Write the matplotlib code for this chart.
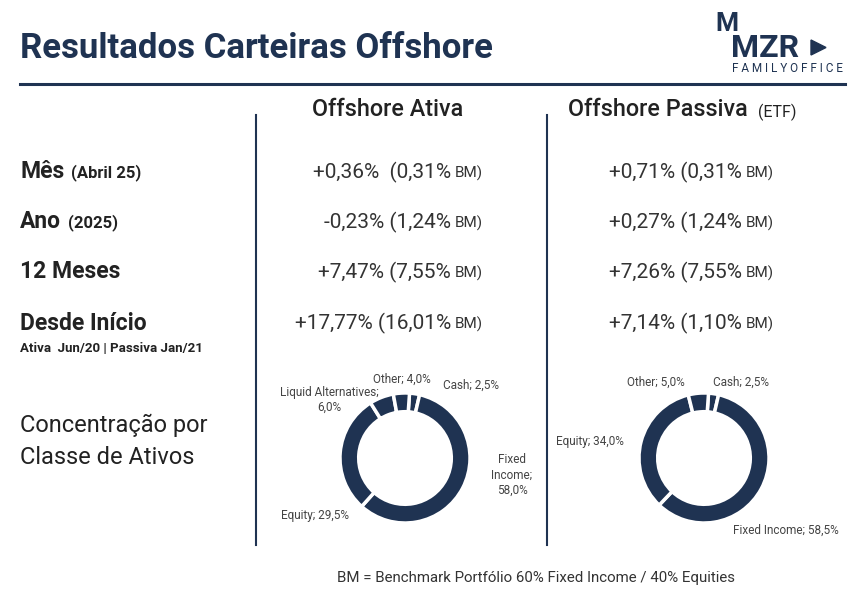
import matplotlib.pyplot as plt
from matplotlib.patches import Polygon

plt.rcParams['font.family'] = ['Roboto', 'DejaVu Sans']

NAVY = '#1f3352'
W, H = 863, 600

rows = ["Mês", "Ano", "12 Meses", "Desde Início"]
row_notes = ["(Abril 25)", "(2025)", "", ""]
ativa = ["+0,36%  (0,31%", "-0,23% (1,24%", "+7,47% (7,55%", "+17,77% (16,01%"]
passiva = ["+0,71% (0,31%", "+0,27% (1,24%", "+7,26% (7,55%", "+7,14% (1,10%"]
row_y = [172, 222, 272, 323]

ativa_labels = ["Cash; 2,5%", "Fixed\nIncome;\n58,0%", "Equity; 29,5%",
                "Liquid Alternatives;\n6,0%", "Other; 4,0%"]
ativa_vals = [2.5, 58.0, 29.5, 6.0, 4.0]
passiva_labels = ["Cash; 2,5%", "Fixed Income; 58,5%", "Equity; 34,0%", "Other; 5,0%"]
passiva_vals = [2.5, 58.5, 34.0, 5.0]

fig = plt.figure(figsize=(W / 100, H / 100), dpi=100)


def px(x, y):
    return x / W, 1 - y / H


def txt(x, y, s, **kw):
    return fig.text(*px(x, y), s, **kw)


txt(20, 48, "Resultados Carteiras Offshore", fontsize=25, fontweight='bold',
    color=NAVY, va='center')
fig.add_artist(plt.Line2D([20 / W, 845 / W], [1 - 84 / H] * 2, color=NAVY, lw=2.2))

# logo
txt(715, 24, "M", fontsize=19, fontweight='bold', color=NAVY, va='center')
txt(731, 48, "MZR", fontsize=23, fontweight='bold', color=NAVY, va='center')
fig.add_artist(Polygon([px(811, 40), px(811, 55), px(826, 47.5)], closed=True,
                       color=NAVY, transform=fig.transFigure))
txt(843, 68, "F A M I L Y O F F I C E", fontsize=8.5, color=NAVY, va='center', ha='right')

# column headers
txt(388, 110, "Offshore Ativa", fontsize=16.8, fontweight='medium', color='#222222',
    ha='center', va='center')
txt(568, 110, "Offshore Passiva", fontsize=16.8, fontweight='medium', color='#222222',
    va='center')
txt(758, 112, "(ETF)", fontsize=11.5, color='#222222', va='center')

for x in (256, 547):
    fig.add_artist(plt.Line2D([x / W] * 2, [1 - 115 / H, 1 - 545 / H], color=NAVY, lw=1.5))

fig.canvas.draw()
for name, note, a, p, y in zip(rows, row_notes, ativa, passiva, row_y):
    t = txt(20, y, name, fontsize=16.5, fontweight='bold', color='#222222', va='center')
    if note:
        bb = t.get_window_extent(renderer=fig.canvas.get_renderer())
        fig.text(bb.x1 / W + 7 / W, 1 - (y + 1) / H, note, fontsize=12, fontweight='bold',
                 color='#222222', va='center')
    txt(451, y, a, fontsize=15, color='#333333', va='center', ha='right')
    txt(455, y + 1, "BM)", fontsize=11, color='#333333', va='center')
    txt(742, y, p, fontsize=15, color='#333333', va='center', ha='right')
    txt(746, y + 1, "BM)", fontsize=11, color='#333333', va='center')

txt(20, 349, "Ativa  Jun/20 | Passiva Jan/21", fontsize=9.5, fontweight='bold',
    color='#222222', va='center')
txt(20, 425, "Concentração por", fontsize=17, color='#222222', va='center')
txt(20, 458, "Classe de Ativos", fontsize=17, color='#222222', va='center')


def donut(cx, vals, labels, positions):
    ax = fig.add_axes([(cx - 66) / W, 1 - (458 + 66) / H, 132 / W, 132 / H])
    ax.pie(vals, startangle=86, counterclock=False, colors=[NAVY] * len(vals),
           wedgeprops=dict(width=19, edgecolor='white', linewidth=2.5), radius=66)
    ax.set_xlim(-67, 67)
    ax.set_ylim(-67, 67)
    ax.set_aspect('equal')
    ax.axis('off')
    for lab, (x, y, ha) in zip(labels, positions):
        txt(x, y, lab, fontsize=8.5, color='#444444', ha=ha, va='center',
            linespacing=1.25)


donut(405, ativa_vals, ativa_labels,
      [(443, 385, 'left'), (512, 475, 'center'), (281, 516, 'left'),
       (329, 400, 'center'), (402, 379, 'center')])
donut(704, passiva_vals, passiva_labels,
      [(713, 382, 'left'), (733, 530, 'left'), (556, 442, 'left'),
       (656, 382, 'center')])

txt(536, 578, "BM = Benchmark Portfólio 60% Fixed Income / 40% Equities",
    fontsize=10.8, color='#333333', ha='center', va='center')

fig.savefig('out.png', dpi=100)
